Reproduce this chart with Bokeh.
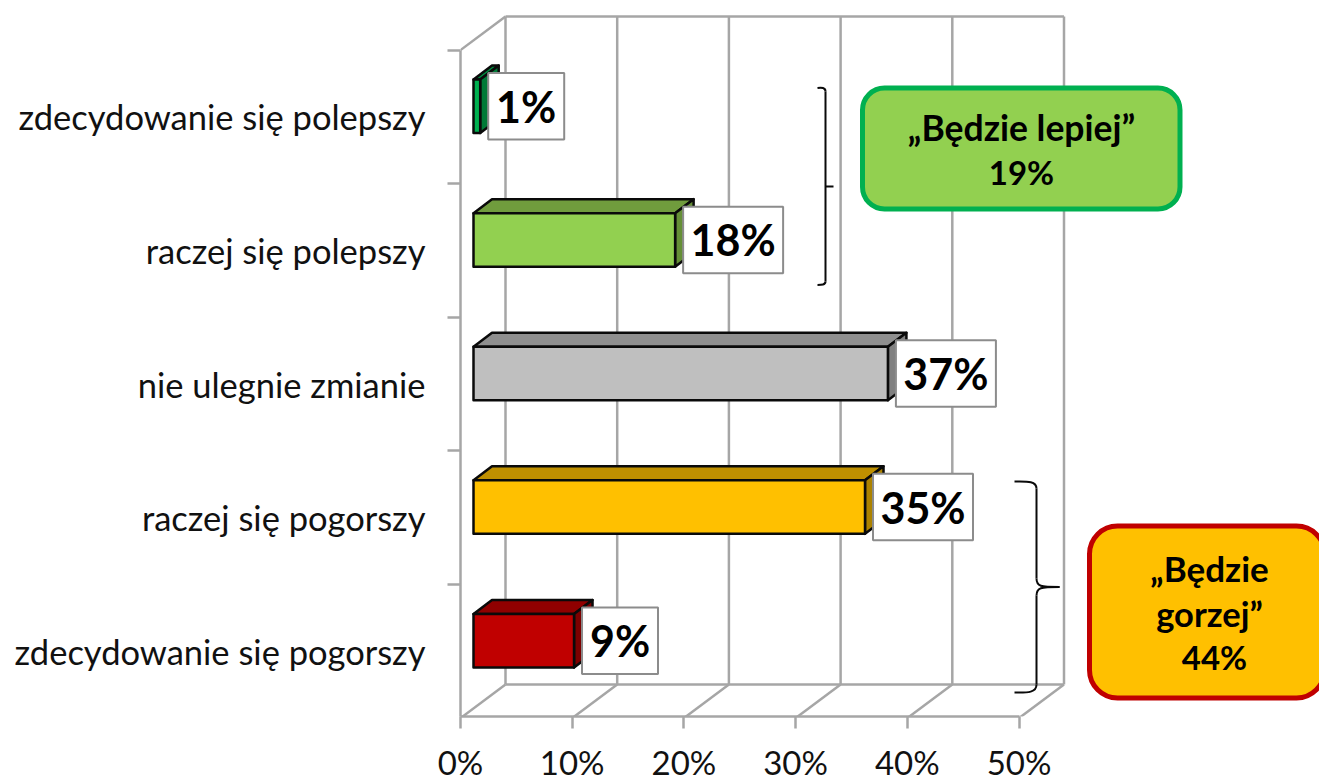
from bokeh.embed import file_html
from bokeh.resources import INLINE
from bokeh.plotting import figure
from bokeh.models import Range1d, LinearAxis, FixedTicker, PrintfTickFormatter
from bokeh.core.properties import value

# ---- data ----
categories = ["zdecydowanie się polepszy", "raczej się polepszy", "nie ulegnie zmianie",
              "raczej się pogorszy", "zdecydowanie się pogorszy"]
percent_labels = [1, 18, 37, 35, 9]
bar_lengths = [0.6, 18.05, 37.1, 35.05, 9.0]
front_colors = ["#00b050", "#92d050", "#bfbfbf", "#ffc000", "#c00000"]
top_colors = ["#008a3e", "#709c3d", "#8f8f8f", "#bf9000", "#900000"]
side_colors = ["#007a37", "#658f37", "#808080", "#ac8200", "#7c0000"]
x_ticks = [0, 10, 20, 30, 40, 50]

# ---- scale helpers: page pixels <-> data (only for decoration/annotation placement) ----
PX_PER_PCT = 11.17
PX_PER_CAT = 133.6
X0_PAGE = 460.0
Y0_PAGE = 116.4
def X(px): return (px - X0_PAGE) / PX_PER_PCT
def Y(py): return (py - Y0_PAGE) / PX_PER_CAT
def DX(px): return px / PX_PER_PCT
def DY(py): return py / PX_PER_CAT

FONT = "Lato"
GRID = "#a6a6a6"
WALL_DX = DX(45)
WALL_DY = DY(33.5)

p = figure(width=1319, height=779, output_backend="svg", toolbar_location=None,
           frame_width=859, frame_height=716,
           x_range=Range1d(0, X(1319)), y_range=Range1d(Y(716), Y(0)),
           x_axis_type=None, y_axis_type=None,
           min_border_left=460, min_border_right=0, min_border_top=0, min_border_bottom=63,
           background_fill_color="white", border_fill_color="white", outline_line_color=None)
p.grid.visible = False

# ---- axes ----
xaxis = LinearAxis(ticker=FixedTicker(ticks=x_ticks), formatter=PrintfTickFormatter(format="%d%%"),
                   bounds=(0, 50), axis_line_color=GRID, axis_line_width=2.5,
                   major_tick_line_color=GRID, major_tick_line_width=2.5,
                   major_tick_in=0, major_tick_out=12, minor_tick_line_color=None,
                   major_label_standoff=13, major_label_text_font=FONT,
                   major_label_text_line_height=0.9,
                   major_label_text_font_size="33px", major_label_text_color="#111111")
p.add_layout(xaxis, "below")

cat_pos = list(range(len(categories)))
bounds_pos = [c - 0.5 for c in cat_pos] + [cat_pos[-1] + 0.5]
yaxis = LinearAxis(ticker=FixedTicker(ticks=cat_pos, minor_ticks=bounds_pos),
                   bounds=(bounds_pos[0], bounds_pos[-1]),
                   major_label_overrides={q: c for q, c in zip(cat_pos, categories)},
                   axis_line_color=GRID, axis_line_width=2.5,
                   major_tick_line_color=None, major_tick_in=0, major_tick_out=0,
                   minor_tick_line_color=GRID, minor_tick_line_width=2.5,
                   minor_tick_in=0, minor_tick_out=13,
                   major_label_standoff=22, major_label_text_font=FONT,
                   major_label_text_font_size="34.5px", major_label_text_color="#111111")
p.add_layout(yaxis, "left")

# ---- 3D walls ----
top_y, bot_y = bounds_pos[0], bounds_pos[-1]
wall_xs = [[t + WALL_DX, t + WALL_DX] for t in x_ticks]
wall_ys = [[top_y - WALL_DY, bot_y - WALL_DY] for t in x_ticks]
wall_xs += [[x_ticks[0] + WALL_DX, x_ticks[-1] + WALL_DX]] * 2
wall_ys += [[top_y - WALL_DY] * 2, [bot_y - WALL_DY] * 2]
# floor diagonals and the left wall's upper edge
wall_xs += [[t, t + WALL_DX] for t in x_ticks] + [[0, WALL_DX]]
wall_ys += [[bot_y, bot_y - WALL_DY] for t in x_ticks] + [[top_y, top_y - WALL_DY]]
p.multi_line(wall_xs, wall_ys, line_color=GRID, line_width=2.5)

# ---- bars ----
BASE = DX(13)
BAR_H = DY(53.5)
BAR_SHIFT = DY(-10.6)
BD_X, BD_Y = DX(18.5), DY(14)
b_left = [BASE for _ in bar_lengths]
b_right = [BASE + v for v in bar_lengths]
b_top = [c + BAR_SHIFT - BAR_H / 2 for c in cat_pos]
b_bot = [c + BAR_SHIFT + BAR_H / 2 for c in cat_pos]
EDGE = dict(line_color="#0a0a0a", line_width=2.5, line_join="round")
p.patches([[l, l + BD_X, r + BD_X, r] for l, r in zip(b_left, b_right)],
          [[t, t - BD_Y, t - BD_Y, t] for t in b_top], fill_color=top_colors, **EDGE)
p.patches([[r, r + BD_X, r + BD_X, r] for r in b_right],
          [[t, t - BD_Y, b - BD_Y, b] for t, b in zip(b_top, b_bot)], fill_color=side_colors, **EDGE)
p.quad(left=b_left, right=b_right, top=b_top, bottom=b_bot, fill_color=front_colors, **EDGE)

# ---- value labels ----
LAB_GAP = DX(8)
lab_w = [DX(76) if v < 10 else DX(100) for v in percent_labels]
lab_h = DY(66.5)
lab_left = [r + LAB_GAP for r in b_right]
lab_right = [l + w for l, w in zip(lab_left, lab_w)]
lab_cy = [c + BAR_SHIFT for c in cat_pos]
p.quad(left=lab_left, right=lab_right, top=[c - lab_h / 2 for c in lab_cy],
       bottom=[c + lab_h / 2 for c in lab_cy], fill_color="white", line_color="#8c8c8c", line_width=2)
p.text(x=[(l + r) / 2 for l, r in zip(lab_left, lab_right)], y=lab_cy,
       text=[f"{v}%" for v in percent_labels], text_font=value(FONT), text_font_style="bold",
       text_font_size="43px", text_color="black", text_align="center", text_baseline="middle")

# ---- braces ----
BR = dict(line_color="#0a0a0a", line_width=2)
def curve(x0, y0, cx0, cy0, cx1, cy1, x1, y1):
    p.bezier(x0=[X(x0)], y0=[Y(y0)], cx0=[X(cx0)], cy0=[Y(cy0)], cx1=[X(cx1)], cy1=[Y(cy1)],
             x1=[X(x1)], y1=[Y(y1)], **BR)
def seg(xs, ys):
    p.line([X(v) for v in xs], [Y(v) for v in ys], **BR)

curve(817, 87.5, 821, 87, 825, 87, 825, 91)
seg([825, 825], [91, 281])
curve(825, 281, 825, 284.5, 821, 284.5, 817, 284.5)
seg([825, 833], [186, 186])

curve(1014, 481, 1025, 481, 1036, 480, 1036, 488)
seg([1036, 1036], [488, 578])
curve(1036, 578, 1036, 586, 1040, 586.5, 1059, 586.5)
curve(1036, 595, 1036, 587, 1040, 586.5, 1059, 586.5)
seg([1036, 1036], [595, 684])
curve(1036, 684, 1036, 693, 1025, 692, 1014, 692)

# ---- summary boxes ----
p.quad(left=[X(862)], right=[X(1179.5)], top=[Y(87.5)], bottom=[Y(208.5)], fill_color="#92d050",
       line_color="#00b050", line_width=5, border_radius=22)
p.quad(left=[X(1089)], right=[X(1324)], top=[Y(525.5)], bottom=[Y(697.5)], fill_color="#ffc000",
       line_color="#c00000", line_width=5, border_radius=28)
sum_x = [1021, 1021, 1209, 1209, 1214]
sum_y = [127, 171, 567, 613, 656]
sum_t = ["„Będzie lepiej”", "19%", "„Będzie", "gorzej”", "44%"]
sum_s = ["35.5px", "33px", "35px", "34.5px", "33px"]
p.text(x=[X(v) for v in sum_x], y=[Y(v) for v in sum_y], text=sum_t, text_font=value(FONT),
       text_font_style="bold", text_font_size=sum_s, text_color="black",
       text_align="center", text_baseline="middle")

open("out.html", "w").write(file_html(p, INLINE))
